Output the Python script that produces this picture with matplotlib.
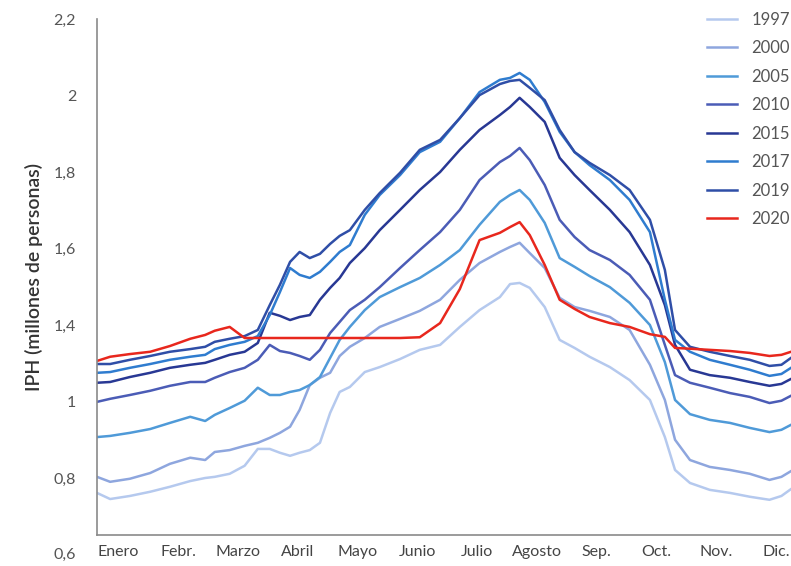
import matplotlib
matplotlib.use("Agg")
import matplotlib.pyplot as plt

plt.rcParams['font.family'] = ['Lato', 'DejaVu Sans']

# posición en meses desde el 1 de enero
meses_x = [0.00, 0.22, 0.55, 0.89, 1.22, 1.56, 1.81, 1.97, 2.22, 2.47, 2.69, 2.89,
           3.06, 3.23, 3.39, 3.56, 3.73, 3.90, 4.06, 4.23, 4.48, 4.73, 5.07, 5.40,
           5.74, 6.07, 6.40, 6.74, 6.91, 7.07, 7.24, 7.49, 7.74, 7.99, 8.24, 8.58,
           8.91, 9.25, 9.50, 9.67, 9.92, 10.25, 10.59, 10.92, 11.25, 11.45, 11.61]

iph_1997 = [0.961, 0.945, 0.953, 0.964, 0.977, 0.992, 1.000, 1.003, 1.011, 1.032, 1.076, 1.076,
            1.066, 1.058, 1.066, 1.073, 1.092, 1.170, 1.225, 1.238, 1.277, 1.290, 1.311, 1.335,
            1.348, 1.395, 1.439, 1.473, 1.507, 1.510, 1.497, 1.447, 1.361, 1.340, 1.317, 1.290,
            1.256, 1.204, 1.107, 1.021, 0.987, 0.969, 0.961, 0.951, 0.943, 0.953, 0.971]
iph_2000 = [1.003, 0.990, 0.998, 1.013, 1.037, 1.053, 1.047, 1.068, 1.073, 1.084, 1.092, 1.105,
            1.118, 1.134, 1.178, 1.243, 1.262, 1.275, 1.319, 1.343, 1.366, 1.395, 1.416, 1.437,
            1.466, 1.518, 1.562, 1.591, 1.604, 1.615, 1.588, 1.549, 1.471, 1.447, 1.437, 1.421,
            1.387, 1.296, 1.204, 1.100, 1.047, 1.029, 1.021, 1.011, 0.995, 1.003, 1.018]
iph_2005 = [1.107, 1.110, 1.118, 1.128, 1.144, 1.160, 1.149, 1.165, 1.183, 1.202, 1.236, 1.217,
            1.217, 1.225, 1.230, 1.243, 1.264, 1.314, 1.361, 1.395, 1.439, 1.473, 1.499, 1.523,
            1.557, 1.596, 1.662, 1.722, 1.740, 1.753, 1.727, 1.667, 1.575, 1.552, 1.528, 1.499,
            1.458, 1.400, 1.303, 1.204, 1.167, 1.152, 1.144, 1.131, 1.120, 1.126, 1.139]
iph_2010 = [1.199, 1.207, 1.217, 1.228, 1.241, 1.251, 1.251, 1.262, 1.277, 1.288, 1.309, 1.348,
            1.332, 1.327, 1.319, 1.309, 1.335, 1.379, 1.408, 1.439, 1.466, 1.499, 1.549, 1.596,
            1.643, 1.701, 1.779, 1.826, 1.842, 1.863, 1.831, 1.766, 1.675, 1.630, 1.596, 1.570,
            1.531, 1.466, 1.348, 1.269, 1.249, 1.236, 1.222, 1.212, 1.196, 1.202, 1.215]
iph_2015 = [1.249, 1.251, 1.264, 1.275, 1.288, 1.296, 1.301, 1.309, 1.322, 1.330, 1.353, 1.432,
            1.424, 1.413, 1.421, 1.426, 1.466, 1.497, 1.523, 1.562, 1.601, 1.648, 1.701, 1.753,
            1.800, 1.858, 1.910, 1.949, 1.970, 1.994, 1.970, 1.931, 1.837, 1.792, 1.753, 1.701,
            1.643, 1.557, 1.452, 1.348, 1.283, 1.269, 1.262, 1.251, 1.241, 1.246, 1.259]
iph_2017 = [1.275, 1.277, 1.288, 1.298, 1.309, 1.317, 1.322, 1.337, 1.348, 1.356, 1.371, 1.426,
            1.486, 1.549, 1.531, 1.523, 1.539, 1.565, 1.591, 1.609, 1.688, 1.740, 1.792, 1.852,
            1.879, 1.941, 2.009, 2.041, 2.046, 2.059, 2.041, 1.983, 1.905, 1.852, 1.818, 1.779,
            1.727, 1.643, 1.466, 1.361, 1.330, 1.309, 1.296, 1.283, 1.267, 1.272, 1.288]
iph_2019 = [1.298, 1.298, 1.309, 1.319, 1.330, 1.337, 1.343, 1.356, 1.364, 1.371, 1.387, 1.452,
            1.505, 1.565, 1.591, 1.575, 1.586, 1.612, 1.633, 1.648, 1.701, 1.745, 1.798, 1.858,
            1.884, 1.941, 2.001, 2.030, 2.038, 2.041, 2.020, 1.988, 1.910, 1.852, 1.824, 1.792,
            1.753, 1.675, 1.544, 1.387, 1.343, 1.330, 1.319, 1.309, 1.293, 1.296, 1.314]
iph_2020 = [1.306, 1.317, 1.324, 1.330, 1.345, 1.364, 1.374, 1.385, 1.395, 1.366, 1.366, 1.366,
            1.366, 1.366, 1.366, 1.366, 1.366, 1.366, 1.366, 1.366, 1.366, 1.366, 1.366, 1.368,
            1.405, 1.494, 1.622, 1.641, 1.656, 1.669, 1.635, 1.557, 1.466, 1.442, 1.421, 1.405,
            1.395, 1.376, 1.369, 1.340, 1.338, 1.335, 1.332, 1.327, 1.319, 1.322, 1.330]

años = ['1997', '2000', '2005', '2010', '2015', '2017', '2019', '2020']
series = [iph_1997, iph_2000, iph_2005, iph_2010, iph_2015, iph_2017, iph_2019, iph_2020]
colores = ['#b5c9ee', '#8ea6de', '#4f9ad8', '#4b5cb6', '#283894', '#2f7ccf', '#2f4ea7', '#e8271d']

meses = ['Enero', 'Febr.', 'Marzo', 'Abril', 'Mayo', 'Junio', 'Julio', 'Agosto',
         'Sep.', 'Oct.', 'Nov.', 'Dic.']
y_ticks = [2.2, 2.0, 1.8, 1.6, 1.4, 1.2, 1.0]
y_labels = ['2,2', '2', '1,8', '1,6', '1,4', '1', '0,8']

fig = plt.figure(figsize=(7.91, 5.66), dpi=100)
ax = fig.add_axes([0.1226, 0.0548, 0.8774, 0.9116])

for nombre, valores, color in zip(años, series, colores):
    ax.plot(meses_x, valores, color=color, lw=1.8, label=nombre)

ax.set_xlim(0, 11.61)
ax.set_ylim(0.851, 2.2)
ax.set_xticks([i + 0.36 for i in range(12)])
ax.set_xticklabels(meses)
ax.set_yticks(y_ticks)
ax.set_yticklabels(y_labels)
ax.tick_params(axis='x', length=0, pad=7, labelsize=11.5, colors='#444444')
ax.tick_params(axis='y', length=0, pad=15, labelsize=11.5, colors='#555555')
ax.text(-0.0303, 0.8, '0,6', transform=ax.get_yaxis_transform(), ha='right', va='center',
        fontsize=11.5, color='#555555', clip_on=False)

for s in ['top', 'right']:
    ax.spines[s].set_visible(False)
for s in ['left', 'bottom']:
    ax.spines[s].set_color('#8a8a8a')
    ax.spines[s].set_linewidth(1.2)

ax.set_ylabel('IPH (millones de personas)', fontsize=14, color='#333333',
              fontweight='semibold', labelpad=8)

ax.legend(loc='upper left', bbox_to_anchor=(0.886, 0.991), bbox_transform=fig.transFigure,
          borderaxespad=0, frameon=False, fontsize=12, handlelength=1.8,
          labelspacing=0.75, handletextpad=0.85, labelcolor='#555555')

fig.savefig('out.png', dpi=100)
